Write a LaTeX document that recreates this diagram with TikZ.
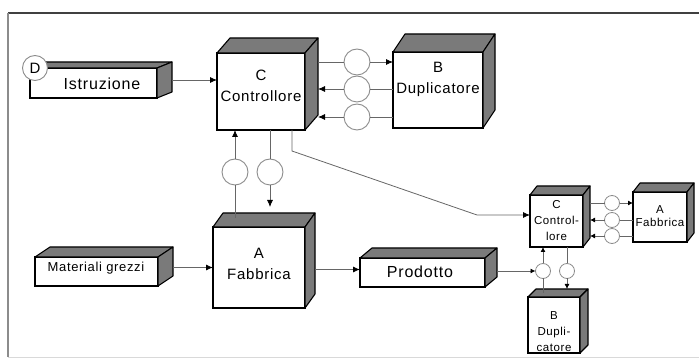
\documentclass[tikz,border=0pt]{standalone}
\usepackage{fontspec}
\setmainfont{Liberation Sans}
\newfontfamily\lbl{Liberation Sans}[LetterSpace=5.0]
\usetikzlibrary{arrows.meta,calc}
\newcommand\boxthree[3]{%
 \filldraw[face] (#1.north west) -- ++(#2,-#3) -- ([shift={(#2,-#3)}]#1.north east) -- (#1.north east) -- cycle;
 \filldraw[face] (#1.north east) -- ([shift={(#2,-#3)}]#1.north east) -- ([shift={(#2,-#3)}]#1.south east) -- (#1.south east) -- cycle;}
\tikzset{
 front/.style={draw=black,fill=white,line width=1.1pt,inner sep=0pt,outer sep=0pt},
 face/.style={draw=black,fill=black!52,line width=1.1pt,line join=round},
 circ/.style={circle,draw=black!45,fill=white,line width=0.9pt,minimum size=26pt,inner sep=0pt,outer sep=0pt},
 scirc/.style={circle,draw=black!45,fill=white,line width=0.8pt,minimum size=15pt,inner sep=0pt,outer sep=0pt},
 conn/.style={draw=black!60,line width=0.8pt},
 arr/.style={conn,-{Latex[length=7pt,width=6pt,color=black]}},
 sarr/.style={conn,-{Latex[length=5pt,width=5pt,color=black]}},
 big/.style={font=\lbl\fontsize{15}{21}\selectfont,align=center,inner sep=0pt},
 small/.style={font=\lbl\fontsize{11.5}{16}\selectfont,align=center,inner sep=0pt},
}
\begin{document}
\begin{tikzpicture}[x=1pt,y=-1pt]
\useasboundingbox (0,0) rectangle (699,363);
% frame
\draw[line width=1.8pt,black!75] (8,13) -- (699,13);
\draw[line width=1.3pt,black!45] (8,13) -- (8,357);
\draw[line width=0.6pt,black!15] (8,357) -- (699,357);
% boxes
\node[front,minimum width=88pt,minimum height=77pt] (C) at (261,91.5) {};
\boxthree{C}{13}{15}
\node[front,minimum width=90pt,minimum height=76pt] (B) at (438,90) {};
\boxthree{B}{12}{18}
\node[front,minimum width=92pt,minimum height=81pt] (A) at (259,267.5) {};
\boxthree{A}{10}{14}
\node[front,minimum width=127pt,minimum height=30pt] (I) at (93.5,83) {};
\boxthree{I}{15}{6}
\node[front,minimum width=123pt,minimum height=29pt] (M) at (96.5,271.5) {};
\boxthree{M}{15}{10}
\node[front,minimum width=125pt,minimum height=29pt] (P) at (422.5,272.5) {};
\boxthree{P}{12}{10}
\node[front,minimum width=53pt,minimum height=52pt] (sC) at (556.5,221) {};
\boxthree{sC}{7}{9}
\node[front,minimum width=54pt,minimum height=50pt] (sA) at (660,217) {};
\boxthree{sA}{7}{9}
\node[front,minimum width=52pt,minimum height=56pt] (sB) at (554,325) {};
\boxthree{sB}{8}{8}
% D marker
\node[circ,minimum size=25pt,font=\fontsize{15}{15}\selectfont] (D) at (35,68) {D};
% labels
\node[big] (Ct) at (261,85.5) {C\\Controllore};
\node[big] (Bt) at (438,79.5) {B\\Duplicatore};
\node[big] (At) at (259,263.5) {A\\Fabbrica};
\node[big,font=\lbl\fontsize{16}{18}\selectfont] (It) at (102,84) {Istruzione};
\node[big,font=\lbl\fontsize{13}{15}\selectfont] (Mt) at (96,268) {Materiali grezzi};
\node[big,font=\lbl\fontsize{16}{18}\selectfont] (Pt) at (420,272) {Prodotto};
\node[small] (sCt) at (556.5,221) {C\\Control-\\lore};
\node[small,font=\lbl\fontsize{11.5}{13}\selectfont] (sAt) at (660,216.5) {A\\Fabbrica};
\node[small] (sBt) at (554,332) {B\\Dupli-\\catore};
% circles
\node[circ] (c1) at (357,62) {};
\node[circ] (c2) at (357,89) {};
\node[circ] (c3) at (357,117) {};
\node[circ] (d1) at (235,172) {};
\node[circ] (d2) at (270,172) {};
\node[scirc] (f1) at (612,203) {};
\node[scirc] (f2) at (612,220) {};
\node[scirc] (f3) at (612,236) {};
\node[scirc] (e1) at (543,271) {};
\node[scirc] (e2) at (567,271) {};
% helper coordinates
\coordinate (Cr) at ([xshift=13pt]C.east);
\coordinate (sCr) at ([xshift=7pt]sC.east);
\coordinate (Ir) at ([shift={(15pt,3pt)}]I.east);
\coordinate (Mr) at ([shift={(15pt,4pt)}]M.east);
\coordinate (Ar) at ([shift={(10pt,-2pt)}]A.east);
\coordinate (Pr) at ([shift={(12pt,4pt)}]P.east);
\coordinate (Ain) at ([yshift=9pt]A.north);
\coordinate (Aabove) at ([yshift=20pt]A.north);
\coordinate (sBin) at ([yshift=4pt]sB.north);
\coordinate (sBtop) at ([yshift=8pt]sB.north);
\coordinate (k1) at (292,151);
\coordinate (k2) at (477,215);
% connectors
\draw[arr] (Ir) -- (Ir -| C.west);
\draw[conn] (c1 -| Cr) -- (c1.west);
\draw[arr] (c1.east) -- (c1 -| B.west);
\draw[conn] (c2 -| B.west) -- (c2.east);
\draw[arr] (c2.west) -- (c2 -| Cr);
\draw[conn] (c3 -| B.west) -- (c3.east);
\draw[arr] (c3.west) -- (c3 -| Cr);
\draw[conn] (d1 |- Ain) -- (d1.south);
\draw[arr] (d1.north) -- (d1 |- C.south);
\draw[conn] (d2 |- C.south) -- (d2.north);
\draw[arr] (d2.south) -- (d2 |- Aabove);
\draw[arr] (k1 |- C.south) -- (k1) -- (k2) -- (k2 -| sC.west);
\draw[arr] (Mr) -- (Mr -| A.west);
\draw[arr] (Ar) -- (Ar -| P.west);
\draw[sarr] (Pr |- e1) -- (e1.west);
\draw[conn] (e1 |- sBin) -- (e1.south);
\draw[sarr] (e1.north) -- (e1 |- sC.south);
\draw[conn] (e2 |- sC.south) -- (e2.north);
\draw[sarr] (e2.south) -- (e2 |- sBtop);
\draw[conn] (f1 -| sCr) -- (f1.west);
\draw[sarr] (f1.east) -- (f1 -| sA.west);
\draw[conn] (f2 -| sA.west) -- (f2.east);
\draw[sarr] (f2.west) -- (f2 -| sCr);
\draw[conn] (f3 -| sA.west) -- (f3.east);
\draw[sarr] (f3.west) -- (f3 -| sCr);
\end{tikzpicture}
\end{document}
